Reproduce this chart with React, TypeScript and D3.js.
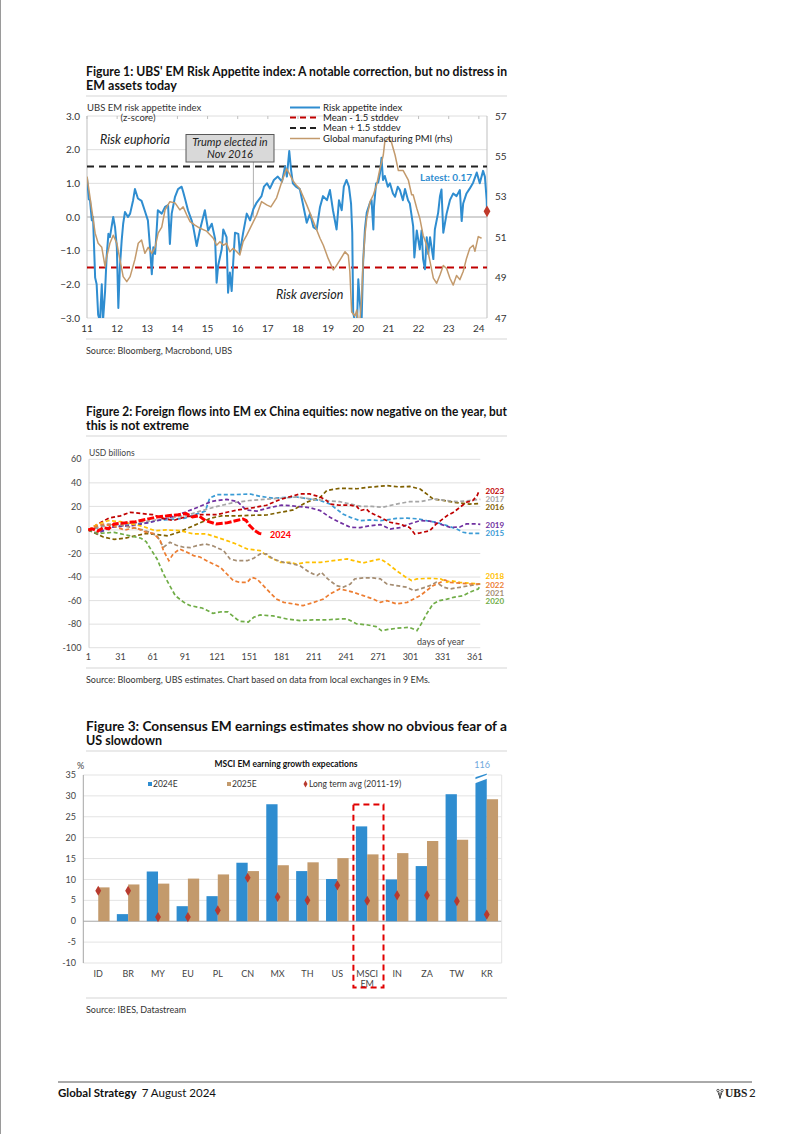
import React from "react";
import * as d3 from "d3";

const FONT = "Lato, 'Open Sans', 'DejaVu Sans', sans-serif";

// ---------------- Figure 1 data ----------------
const riskAppetite: [number, number][] = [
  [2011.0, 1.17], [2011.06, 0.53], [2011.1, 0.5], [2011.16, -0.1], [2011.2, 0.0], [2011.27, -1.8], [2011.32, -2.0],
  [2011.37, -2.9], [2011.43, -3.1], [2011.49, -2.0], [2011.53, -3.1], [2011.6, -2.2], [2011.65, -1.2], [2011.71, -0.5],
  [2011.76, -0.6], [2011.87, 0.0], [2011.93, -0.3], [2011.99, -0.9], [2012.04, -2.7], [2012.09, -1.5], [2012.15, -0.7],
  [2012.2, -0.2], [2012.26, 0.15], [2012.36, 0.0], [2012.43, 0.1], [2012.53, 0.5], [2012.59, 0.83], [2012.69, 0.55],
  [2012.81, 0.48], [2012.92, 0.18], [2013.02, -0.1], [2013.09, -0.9], [2013.15, -1.7], [2013.2, -0.9], [2013.26, -1.1],
  [2013.31, -0.4], [2013.35, 0.2], [2013.48, 0.1], [2013.59, 0.3], [2013.69, 0.35], [2013.75, -0.8], [2013.81, 0.1],
  [2013.92, 0.6], [2014.02, 0.83], [2014.14, 0.9], [2014.19, 0.75], [2014.25, 0.55], [2014.35, 0.2], [2014.47, -0.1],
  [2014.52, -0.27], [2014.64, -0.86], [2014.75, -0.37], [2014.91, 0.2], [2015.02, -0.4], [2015.14, -0.2], [2015.25, -0.65],
  [2015.3, -1.95], [2015.35, -1.45], [2015.47, -0.95], [2015.52, -0.37], [2015.63, -0.6], [2015.68, -2.25], [2015.74, -1.65],
  [2015.8, -2.2], [2015.85, -1.36], [2015.91, -0.47], [2016.02, -0.5], [2016.07, -1.06], [2016.18, -0.47], [2016.3, 0.1],
  [2016.41, -0.1], [2016.52, 0.24], [2016.63, 0.43], [2016.79, 0.62], [2016.87, 0.9], [2016.97, 1.0], [2017.07, 0.85],
  [2017.2, 1.1], [2017.33, 1.2], [2017.47, 1.05], [2017.57, 1.5], [2017.63, 1.2], [2017.71, 1.96], [2017.77, 1.4],
  [2017.83, 1.0], [2017.93, 0.9], [2018.06, 0.83], [2018.16, 0.4], [2018.29, -0.17], [2018.4, 0.1], [2018.51, -0.3],
  [2018.62, -0.37], [2018.73, 0.3], [2018.83, 0.62], [2018.96, 0.5], [2019.06, 0.8], [2019.16, 0.2], [2019.28, -0.37],
  [2019.36, 0.5], [2019.45, 0.2], [2019.52, 0.9], [2019.61, 1.1], [2019.69, 0.9], [2019.76, 0.4], [2019.8, -0.47],
  [2019.83, -2.84], [2019.89, -3.1], [2019.96, -3.1], [2020.0, -1.85], [2020.05, -2.5], [2020.11, -3.1], [2020.16, -1.36],
  [2020.22, -0.37], [2020.28, 0.13], [2020.39, 0.43], [2020.44, 0.5], [2020.5, -0.37], [2020.52, 0.3], [2020.59, 1.0],
  [2020.66, 1.02], [2020.72, 1.3], [2020.77, 1.76], [2020.82, 1.1], [2020.88, 1.22], [2020.98, 0.9], [2021.05, 1.0],
  [2021.15, 0.7], [2021.22, 0.6], [2021.31, 0.9], [2021.38, 0.8], [2021.48, 0.5], [2021.55, 0.83], [2021.65, 0.5],
  [2021.71, 0.4], [2021.82, -0.27], [2021.86, -1.2], [2021.94, -0.4], [2022.04, -0.96], [2022.1, -0.4], [2022.15, -1.25],
  [2022.21, -1.55], [2022.27, -0.6], [2022.32, -1.1], [2022.38, -0.6], [2022.49, -1.25], [2022.54, -0.37], [2022.65, 0.13],
  [2022.71, 0.62], [2022.76, 0.82], [2022.82, -0.47], [2022.93, 0.1], [2023.04, 0.5], [2023.15, 0.7], [2023.26, 0.62],
  [2023.37, 0.8], [2023.43, -0.12], [2023.48, 0.4], [2023.59, 0.7], [2023.7, 0.85], [2023.81, 1.02], [2023.93, 1.32],
  [2024.03, 1.0], [2024.14, 1.37], [2024.2, 1.2], [2024.26, 0.5], [2024.27, 0.17],
];

const globalPmi: [number, number][] = [
  [2011.0, 54.0], [2011.16, 52.35], [2011.27, 51.2], [2011.37, 50.7], [2011.49, 50.5], [2011.6, 49.54], [2011.65, 50.0],
  [2011.76, 50.7], [2011.87, 51.1], [2011.99, 50.7], [2012.09, 49.9], [2012.2, 49.05], [2012.32, 48.8], [2012.43, 49.05],
  [2012.59, 49.9], [2012.7, 50.7], [2012.81, 50.86], [2012.92, 50.2], [2013.03, 50.5], [2013.15, 50.2], [2013.26, 50.5],
  [2013.36, 51.2], [2013.48, 51.5], [2013.59, 52.35], [2013.75, 52.76], [2013.92, 52.7], [2014.08, 52.35], [2014.19, 52.5],
  [2014.31, 52.1], [2014.42, 51.77], [2014.58, 51.6], [2014.75, 51.44], [2014.97, 51.3], [2015.19, 50.95], [2015.3, 50.6],
  [2015.41, 50.78], [2015.52, 50.6], [2015.63, 50.7], [2015.74, 50.28], [2015.85, 50.45], [2015.97, 50.28], [2016.07, 50.12],
  [2016.18, 50.78], [2016.3, 51.1], [2016.41, 51.44], [2016.52, 51.77], [2016.63, 52.1], [2016.79, 52.76], [2016.96, 52.6],
  [2017.1, 52.5], [2017.29, 52.95], [2017.43, 53.6], [2017.62, 54.4], [2017.73, 54.1], [2017.83, 53.8], [2017.93, 53.6],
  [2018.06, 53.4], [2018.29, 52.6], [2018.51, 51.77], [2018.73, 50.95], [2018.84, 50.6], [2019.0, 49.95], [2019.17, 49.38],
  [2019.28, 49.6], [2019.39, 49.87], [2019.56, 50.28], [2019.67, 50.1], [2019.72, 49.3], [2019.78, 47.3], [2019.89, 47.1],
  [2019.95, 47.4], [2020.0, 46.8], [2020.05, 46.8], [2020.11, 48.0], [2020.16, 49.8], [2020.22, 51.1], [2020.28, 51.94],
  [2020.39, 52.76], [2020.5, 53.1], [2020.61, 53.6], [2020.72, 54.4], [2020.83, 55.07], [2020.88, 55.73], [2020.99, 55.9],
  [2021.1, 55.7], [2021.22, 55.07], [2021.33, 54.3], [2021.49, 54.3], [2021.66, 53.83], [2021.77, 53.1], [2021.82, 53.1],
  [2021.94, 52.43], [2022.04, 51.94], [2022.15, 51.1], [2022.27, 50.6], [2022.38, 49.79], [2022.49, 48.97], [2022.6, 48.72],
  [2022.71, 49.13], [2022.82, 49.6], [2022.93, 49.45], [2023.04, 48.97], [2023.15, 48.63], [2023.26, 49.1], [2023.37, 48.9],
  [2023.48, 49.3], [2023.59, 49.95], [2023.7, 50.45], [2023.81, 50.6], [2023.87, 50.3], [2023.98, 51.03], [2024.09, 50.95],
];

const fig1YearTicks = [2011, 2012, 2013, 2014, 2015, 2016, 2017, 2018, 2019, 2020, 2021, 2022, 2023, 2024];
const fig1LeftTicks = [3, 2, 1, 0, -1, -2, -3];
const fig1RightTicks = [57, 55, 53, 51, 49, 47];
const stddevUpper = 1.5;
const stddevLower = -1.5;
const latestRisk = 0.17;

// ---------------- Figure 2 data ----------------
const flows2015: [number, number][] = [[1,0],[8,2],[15,-1],[25,3],[35,4],[45,5],[55,6],[65,8],[78,9],[91,10],[100,13],[110,16],[114,27],[121,30],[135,30],[152,30.5],[161,28.5],[173,27],[183,27.5],[195,28],[207,26.3],[217,25],[226,22],[232,17.8],[238,13.6],[245,10.7],[254,7.9],[263,8.5],[273,7.9],[279,8.5],[288,9.8],[298,10],[307,9.5],[316,7.9],[325,6.5],[335,3.7],[344,0.8],[350,-2],[356,-2.9],[366,-2.9]];
const flows2016: [number, number][] = [[1,0],[8,-3],[15,-6],[25,-8],[35,-7],[45,-5],[55,-3],[65,-4],[75,-5],[85,-2],[95,2],[105,6],[115,10],[125,12],[140,12],[155,12.5],[167,12.7],[180,15],[192,17],[204,23.5],[217,27.7],[223,33.4],[235,35.4],[251,35],[263,36.3],[279,37.6],[291,36.5],[300,37],[310,34.8],[316,30.6],[322,26.3],[329,25.5],[338,24],[347,22.9],[356,22],[366,22.5]];
const flows2017: [number, number][] = [[1,0],[10,2],[20,4],[31,5],[45,6],[61,8],[75,10],[91,12],[105,16],[121,20],[135,23],[151,25],[165,26],[181,27],[195,28],[211,26],[222,25],[235,24],[245,22],[255,20],[265,20],[275,19.2],[288,22],[300,24],[310,24],[322,26.3],[335,25],[345,24],[356,25],[366,26]];
const flows2018: [number, number][] = [[1,0],[10,5],[20,8],[31,7],[42,5],[52,3],[63,-0.6],[74,0],[86,-0.5],[99,-3.4],[111,-3.4],[121,-6.3],[130,-9.1],[139,-12],[149,-16.2],[161,-17.6],[170,-23.3],[180,-27.5],[189,-27.5],[195,-28.9],[204,-27.5],[217,-27.5],[229,-26.1],[242,-24.6],[248,-26],[257,-28],[266,-26],[273,-24.6],[279,-28],[288,-34.6],[296,-39.7],[302,-43],[307,-41.6],[319,-41],[329,-41.6],[335,-44.5],[338,-43],[347,-44.5],[356,-45.2],[366,-45.9]];
const flows2019: [number, number][] = [[1,0],[10,-3],[20,2],[31,3],[45,4],[61,7],[75,10],[91,15],[105,20],[115,24],[121,25],[130,26],[140,24],[148,17],[158,16],[170,19],[181,21],[190,20.5],[198,19.8],[207,19],[217,16.4],[226,10.7],[235,6.5],[245,2.2],[254,2],[263,3.5],[273,4.5],[282,0.8],[291,2],[300,5.1],[310,7.9],[319,7.5],[328,5.1],[338,2.2],[347,2.5],[353,5.1],[363,5.1],[366,4.8]];
const flows2020: [number, number][] = [[1,0],[10,-3],[25,-2],[40,-5],[50,-7],[55,-10],[57,-13.3],[65,-24.6],[71,-37.4],[76,-45.9],[82,-55.8],[90,-61.5],[96,-64.3],[107,-66.3],[117,-70.8],[125,-69.5],[131,-69.6],[139,-75.6],[142,-77.6],[150,-78.2],[155,-74.2],[161,-72.2],[173,-73],[186,-75.6],[198,-77],[210,-76.4],[223,-76.4],[235,-75.6],[242,-75.6],[251,-79.8],[260,-80.5],[269,-82.1],[274,-85.5],[280,-84.5],[288,-83.5],[300,-82.7],[307,-85.5],[311,-79.8],[316,-71.3],[322,-62.8],[328,-60],[335,-58.8],[341,-57.2],[350,-55.8],[356,-53],[364,-50.1],[366,-47.3]];
const flows2021: [number, number][] = [[1,0],[10,3],[20,5],[31,4],[42,2],[52,0],[58,-2],[65,-4.8],[71,-14.7],[77,-10.5],[83,-13],[90,-14.7],[96,-15],[102,-13.3],[110,-11.9],[117,-13.5],[127,-17.6],[133,-24.6],[139,-26.1],[149,-26.1],[155,-24],[161,-20.4],[167,-20.4],[173,-24.6],[183,-27.5],[192,-29],[198,-30.3],[207,-36],[214,-38.8],[218,-36],[224,-41.6],[232,-47.3],[238,-48.7],[245,-45.9],[249,-41.6],[257,-40.7],[266,-40.7],[273,-41.6],[279,-45.9],[288,-47.3],[298,-48.7],[304,-51.5],[310,-50.1],[319,-47.3],[325,-44.5],[332,-48.7],[338,-50.1],[347,-48.7],[356,-47.3],[366,-45.9]];
const flows2022: [number, number][] = [[1,0],[8,3],[15,5],[25,3],[35,0],[45,2],[55,-2],[62,-3],[68,-9.1],[71,-17.6],[76,-26.1],[80,-20.4],[86,-16.2],[93,-19],[99,-21.8],[105,-23],[114,-27.5],[124,-31.8],[130,-37.4],[136,-43],[142,-44.5],[149,-44.5],[153,-40.3],[158,-41.6],[164,-47.3],[170,-53],[176,-58.6],[183,-61.5],[192,-62.8],[201,-64.3],[211,-61.5],[220,-58.6],[226,-54.4],[235,-50.1],[242,-51.5],[248,-53],[257,-55.8],[266,-58.6],[273,-61.5],[279,-60],[288,-62.8],[298,-61.5],[304,-58.6],[310,-55.8],[316,-51.5],[322,-47.3],[329,-44.5],[333,-42.5],[338,-44.5],[347,-45.2],[356,-45.9],[366,-45.9]];
const flows2023: [number, number][] = [[1,0],[10,5],[20,10],[31,12],[40,15],[50,14],[61,13],[70,10],[80,8],[91,11],[105,13],[121,13],[130,15],[140,17],[155,19],[167,21],[180,26],[192,29],[198,30.6],[207,30.6],[217,28],[223,24.9],[226,22],[235,21],[245,21],[251,20],[254,16.4],[260,17.8],[263,15],[273,10.7],[282,6.5],[291,5],[300,2.2],[305,-3.4],[310,-2.5],[319,-0.6],[325,5.1],[335,12.1],[341,15],[347,19.2],[353,23.5],[359,25],[363,29.1],[365,33.4]];
const flows2024: [number, number][] = [[1,0],[5,1],[10,-1],[15,2],[20,1],[25,5],[35,6],[45,7],[55,9],[65,11],[75,12],[85,13],[92,14],[98,11],[104,12],[110,7.9],[120,5.1],[130,6],[139,8],[145,9.3],[148,8],[151,4],[156,-0.6],[160,-2.9],[163,-3.4]];

const flowYears = ["2015", "2016", "2017", "2018", "2019", "2020", "2021", "2022", "2023", "2024"];
const flowSeriesData = [flows2015, flows2016, flows2017, flows2018, flows2019, flows2020, flows2021, flows2022, flows2023, flows2024];
const fig2XTicks = [1, 31, 61, 91, 121, 151, 181, 211, 241, 271, 301, 331, 361];
const fig2YTicks = [60, 40, 20, 0, -20, -40, -60, -80, -100];

// ---------------- Figure 3 data ----------------
const countries = ["ID", "BR", "MY", "EU", "PL", "CN", "MX", "TH", "US", "MSCI EM", "IN", "ZA", "TW", "KR"];
const est2024: (number | null)[] = [null, 1.7, 11.9, 3.6, 6.0, 14.0, 28.0, 12.0, 10.1, 22.7, 10.0, 13.2, 30.4, 116];
const est2025 = [8.1, 8.8, 9.0, 10.2, 11.2, 12.0, 13.4, 14.1, 15.1, 16.0, 16.3, 19.2, 19.5, 29.2];
const longTermAvg = [7.3, 7.3, 1.0, 1.0, 2.6, 10.4, 5.8, 5.0, 8.6, 4.9, 6.2, 6.2, 4.8, 1.6];
const fig3YTicks = [35, 30, 25, 20, 15, 10, 5, 0, -5, -10];

// ---------------- styles ----------------
const BLUE = "#2F8DD0";
const TAN = "#C39A6C";
const flowStyle: Record<string, { color: string; labelY: number; width: number; dash: string }> = {
  "2023": { color: "#C00000", labelY: 491, width: 1.7, dash: "4,2.5" },
  "2017": { color: "#A6A6A6", labelY: 499, width: 1.7, dash: "4,2.5" },
  "2016": { color: "#7F6000", labelY: 507, width: 1.7, dash: "4,2.5" },
  "2019": { color: "#7030A0", labelY: 525, width: 1.7, dash: "4,2.5" },
  "2015": { color: "#3A9BD5", labelY: 533, width: 1.7, dash: "4,2.5" },
  "2018": { color: "#FFC000", labelY: 576.5, width: 1.7, dash: "4,2.5" },
  "2022": { color: "#ED7D31", labelY: 584.7, width: 1.7, dash: "4,2.5" },
  "2021": { color: "#A58D72", labelY: 593, width: 1.7, dash: "4,2.5" },
  "2020": { color: "#70AD47", labelY: 601.2, width: 1.7, dash: "4,2.5" },
  "2024": { color: "#FF0000", labelY: 535, width: 3, dash: "7,2" },
};

function Title({ y, line1, line2 }: { y: number; line1: string; line2: string }) {
  return (
    <g fontFamily={FONT} fontWeight={700} fontSize={12.5} fill="#111">
      <text x={86} y={y} textLength={421} lengthAdjust="spacingAndGlyphs">{line1}</text>
      <text x={86} y={y + 14}>{line2}</text>
      <line x1={86} x2={507} y1={y + 20.5} y2={y + 20.5} stroke="#e3e3e3" strokeWidth={1.5} />
    </g>
  );
}

function Source({ y, text }: { y: number; text: string }) {
  return (
    <g fontFamily={FONT}>
      <line x1={86} x2={507} y1={y - 12} y2={y - 12} stroke="#e3e3e3" strokeWidth={1.5} />
      <text x={86} y={y + 3} fontSize={9} fill="#333">{text}</text>
    </g>
  );
}

function Figure1() {
  const x = d3.scaleLinear().domain([2011, 2024.27]).range([87, 487]);
  const yL = d3.scaleLinear().domain([-3, 3]).range([318, 116]);
  const yR = d3.scaleLinear().domain([47, 57]).range([318, 116]);
  const riskLine = d3.line<[number, number]>().x((d) => x(d[0])).y((d) => yL(d[1]));
  const pmiLine = d3.line<[number, number]>().x((d) => x(d[0])).y((d) => yR(d[1]));
  const trumpX = x(2016.52);
  return (
    <g fontFamily={FONT}>
      <defs>
        <clipPath id="clip1">
          <rect x={87} y={116} width={400} height={202} />
        </clipPath>
      </defs>
      {fig1LeftTicks.map((t) => (
        <line key={t} x1={87} x2={487} y1={yL(t)} y2={yL(t)} stroke={t === 0 ? "#a6a6a6" : "#dedede"} strokeWidth={1} />
      ))}
      <line x1={87} x2={87} y1={116} y2={318} stroke="#bfbfbf" />
      <line x1={487} x2={487} y1={116} y2={318} stroke="#bfbfbf" />
      {fig1YearTicks.map((t) => (
        <line key={"tk" + t} x1={x(t)} x2={x(t)} y1={116} y2={119} stroke="#bfbfbf" />
      ))}
      {fig1LeftTicks.map((t) => (
        <text key={"l" + t} x={80} y={yL(t)} dy="0.35em" textAnchor="end" fontSize={10} fill="#333">
          {d3.format(".1f")(t)}
        </text>
      ))}
      {fig1RightTicks.map((t) => (
        <text key={"r" + t} x={495} y={yR(t)} dy="0.35em" fontSize={10} fill="#333">{t}</text>
      ))}
      {fig1YearTicks.map((t) => (
        <text key={"x" + t} x={x(t)} y={332} textAnchor="middle" fontSize={10} fill="#333">
          {String(t).slice(2)}
        </text>
      ))}
      <text x={87} y={110.5} fontSize={9.5} fill="#333">UBS EM risk appetite index</text>
      <text x={138} y={120.5} fontSize={9.5} fill="#333" textAnchor="middle">(z-score)</text>
      <text x={100} y={143.5} fontSize={12.5} fontStyle="italic" fill="#222">Risk euphoria</text>
      <text x={276} y={299} fontSize={12.5} fontStyle="italic" fill="#222">Risk aversion</text>
      {/* Trump marker */}
      <line x1={trumpX} x2={trumpX} y1={162} y2={yL(0)} stroke="#b0b0b0" strokeWidth={1} />
      <rect x={186} y={134.5} width={88} height={27.5} fill="#d9d9d9" stroke="#595959" strokeWidth={1} />
      <text x={230} y={146} textAnchor="middle" fontSize={11} fontStyle="italic" fill="#222">Trump elected in</text>
      <text x={230} y={158} textAnchor="middle" fontSize={11} fontStyle="italic" fill="#222">Nov 2016</text>
      {/* stddev bands */}
      <line x1={87} x2={487} y1={yL(stddevUpper)} y2={yL(stddevUpper)} stroke="#222" strokeWidth={1.8} strokeDasharray="7,5" />
      <line x1={87} x2={487} y1={yL(stddevLower)} y2={yL(stddevLower)} stroke="#C00000" strokeWidth={1.8} strokeDasharray="7,5" />
      <g clipPath="url(#clip1)">
        <path d={riskLine(riskAppetite) || ""} fill="none" stroke={BLUE} strokeWidth={2} strokeLinejoin="round" />
        <path d={pmiLine(globalPmi) || ""} fill="none" stroke={TAN} strokeWidth={1.5} strokeLinejoin="round" />
      </g>
      <path d={d3.symbol().type(d3.symbolDiamond).size(40)() || ""} transform={`translate(487,${yL(latestRisk)})`} fill="#C0392B" />
      <text x={420} y={181} fontSize={10} fontWeight={700} fill={BLUE}>Latest: 0.17</text>
      {/* legend */}
      <g fontSize={9.5} fill="#222">
        <line x1={290} x2={320} y1={107.5} y2={107.5} stroke={BLUE} strokeWidth={2} />
        <text x={323} y={107.5} dy="0.35em">Risk appetite index</text>
        <line x1={290} x2={320} y1={117.5} y2={117.5} stroke="#C00000" strokeWidth={1.8} strokeDasharray="6,4" />
        <text x={323} y={117.5} dy="0.35em">Mean - 1.5 stddev</text>
        <line x1={290} x2={320} y1={128} y2={128} stroke="#222" strokeWidth={1.8} strokeDasharray="6,4" />
        <text x={323} y={128} dy="0.35em">Mean + 1.5 stddev</text>
        <line x1={290} x2={320} y1={138.5} y2={138.5} stroke={TAN} strokeWidth={1.5} />
        <text x={323} y={138.5} dy="0.35em">Global manufacturing PMI (rhs)</text>
      </g>
    </g>
  );
}

function Figure2() {
  const x = d3.scaleLinear().domain([1, 366]).range([88.3, 480.3]);
  const y = d3.scaleLinear().domain([-100, 60]).range([647.7, 459.3]);
  const line = d3.line<[number, number]>().x((d) => x(d[0])).y((d) => y(d[1])).curve(d3.curveLinear);
  const order = ["2015", "2016", "2017", "2019", "2023", "2018", "2021", "2022", "2020", "2024"];
  return (
    <g fontFamily={FONT}>
      {fig2YTicks.map((t) => (
        <line key={t} x1={89} x2={480.3} y1={y(t)} y2={y(t)} stroke="#e0e0e0" strokeWidth={1} />
      ))}
      <line x1={89} x2={89} y1={459.3} y2={647.7} stroke="#d0d0d0" />
      {fig2YTicks.map((t) => (
        <text key={"l" + t} x={81.5} y={y(t)} dy="0.35em" textAnchor="end" fontSize={9} fill="#444">{t}</text>
      ))}
      {fig2XTicks.map((t) => (
        <text key={"x" + t} x={x(t)} y={660} textAnchor="middle" fontSize={9} fill="#444">{t}</text>
      ))}
      <text x={89} y={456} fontSize={8.5} fill="#444">USD billions</text>
      <text x={417} y={644.5} fontSize={9} fill="#444">days of year</text>
      {order.map((yr) => {
        const idx = flowYears.indexOf(yr);
        const st = flowStyle[yr];
        return (
          <path key={yr} d={line(flowSeriesData[idx]) || ""} fill="none" stroke={st.color} strokeWidth={st.width} strokeDasharray={st.dash} />
        );
      })}
      {flowYears.filter((yr) => yr !== "2024").map((yr) => (
        <text key={"lab" + yr} x={485.5} y={flowStyle[yr].labelY} dy="0.35em" fontSize={8} fontWeight={700} fill={flowStyle[yr].color}>{yr}</text>
      ))}
      <text x={270} y={535} dy="0.35em" fontSize={9} fontWeight={700} fill="#FF0000">2024</text>
    </g>
  );
}

function Figure3() {
  const x0 = d3.scaleBand<string>().domain(countries).range([83.3, 501.7]).paddingInner(0.244).paddingOuter(0.122);
  const x1 = d3.scaleBand<string>().domain(["2024E", "2025E"]).range([0, x0.bandwidth()]);
  const y = d3.scaleLinear().domain([-10, 35]).range([963, 775]);
  const diamond = d3.symbol().type(d3.symbolDiamond).size(30)() || "";
  return (
    <g fontFamily={FONT}>
      {fig3YTicks.map((t) => (
        <line key={t} x1={83.3} x2={501.7} y1={y(t)} y2={y(t)} stroke={t === 0 ? "#a6a6a6" : "#e3e3e3"} strokeWidth={1} />
      ))}
      <line x1={83.3} x2={83.3} y1={775} y2={963} stroke="#a6a6a6" />
      <line x1={501.7} x2={501.7} y1={775} y2={963} stroke="#e3e3e3" />
      {fig3YTicks.map((t) => (
        <text key={"l" + t} x={76} y={y(t)} dy="0.35em" textAnchor="end" fontSize={9} fill="#444">{t}</text>
      ))}
      <text x={77} y={769} fontSize={9} fill="#444">%</text>
      <text x={286} y={766.5} textAnchor="middle" fontSize={8.5} fontWeight={700} fill="#111">MSCI EM earning growth expecations</text>
      {countries.map((c, i) => {
        const bx = x0(c) || 0;
        const b24 = est2024[i];
        const top24 = b24 === null ? null : Math.max(y(b24), 773);
        return (
          <g key={c}>
            {top24 !== null && (
              <rect x={bx + (x1("2024E") || 0)} y={top24} width={x1.bandwidth()} height={y(0) - top24} fill={BLUE} />
            )}
            <rect x={bx + (x1("2025E") || 0)} y={y(est2025[i])} width={x1.bandwidth()} height={y(0) - y(est2025[i])} fill={TAN} />
          </g>
        );
      })}
      {/* KR axis break */}
      {(() => {
        const bx = (x0("KR") || 0) + (x1("2024E") || 0);
        const w = x1.bandwidth();
        return (
          <g>
            <polygon points={`${bx - 1},772 ${bx + w + 1},772 ${bx + w + 1},773.3 ${bx - 1},777.5`} fill="#fff" />
            <polygon points={`${bx - 1},779.5 ${bx + w + 1},774.5 ${bx + w + 1},778.5 ${bx - 1},783.5`} fill="#fff" />
            <text x={bx + w / 2 + 1} y={768} textAnchor="middle" fontSize={9} fill="#6FA8DC">116</text>
          </g>
        );
      })()}
      {countries.map((c, i) => (
        <path key={"d" + c} d={diamond} transform={`translate(${(x0(c) || 0) + x0.bandwidth() / 2},${y(longTermAvg[i])})`} fill="#B83A2E" />
      ))}
      {countries.map((c) => {
        const cx = (x0(c) || 0) + x0.bandwidth() / 2;
        const parts = c.split(" ");
        return (
          <text key={"x" + c} x={cx} y={976.5} textAnchor="middle" fontSize={9} fill="#444">
            {parts.map((p, k) => (
              <tspan key={k} x={cx} dy={k === 0 ? 0 : 10.5}>{p}</tspan>
            ))}
          </text>
        );
      })}
      {/* highlight box */}
      <rect x={(x0("MSCI EM") || 0) - 2.5} y={804.5} width={x0.bandwidth() + 7.5} height={183} fill="none" stroke="#E00000" strokeWidth={2} strokeDasharray="6,4" />
      {/* legend */}
      <g fontSize={8.5} fill="#333">
        <rect x={148} y={782} width={4} height={4} fill={BLUE} />
        <text x={153} y={786.5}>2024E</text>
        <rect x={227} y={782} width={4} height={4} fill={TAN} />
        <text x={232} y={786.5}>2025E</text>
        <path d={d3.symbol().type(d3.symbolDiamond).size(14)() || ""} transform="translate(305.5,784)" fill="#B83A2E" />
        <text x={309} y={786.5}>Long term avg (2011-19)</text>
      </g>
    </g>
  );
}

export default function App() {
  return (
    <div style={{ position: "absolute", left: 0, top: 0 }}>
      <svg width={802} height={1134} viewBox="0 0 802 1134" style={{ display: "block", background: "#fff" }}>
        <rect x={0} y={0} width={802} height={1134} fill="#fff" />
        <line x1={0.5} x2={0.5} y1={0} y2={1134} stroke="#9a9a9a" />
        <Title y={75.5} line1="Figure 1: UBS' EM Risk Appetite index: A notable correction, but no distress in" line2="EM assets today" />
        <Figure1 />
        <Source y={351} text="Source: Bloomberg, Macrobond, UBS" />
        <Title y={415.5} line1="Figure 2: Foreign flows into EM ex China equities: now negative on the year, but" line2="this is not extreme" />
        <Figure2 />
        <Source y={680} text="Source: Bloomberg, UBS estimates. Chart based on data from local exchanges in 9 EMs." />
        <Title y={730.5} line1="Figure 3: Consensus EM earnings estimates show no obvious fear of a" line2="US slowdown" />
        <Figure3 />
        <Source y={1010} text="Source: IBES, Datastream" />
        {/* footer */}
        <line x1={58} x2={752} y1={1082} y2={1082} stroke="#555" strokeWidth={1} />
        <text x={58} y={1097} fontFamily={FONT} fontSize={11.5} fill="#111">
          <tspan fontWeight={700}>Global Strategy</tspan>
          <tspan dx={5}>7 August 2024</tspan>
        </text>
        <g transform="translate(716,1089)" fill="#333" stroke="#333" strokeWidth={0.8}>
          <circle cx={2} cy={1.5} r={1.2} fill="none" />
          <circle cx={6} cy={1.5} r={1.2} fill="none" />
          <circle cx={4} cy={5} r={1.2} fill="none" />
          <line x1={2} y1={3} x2={4} y2={9} />
          <line x1={6} y1={3} x2={4} y2={9} />
          <line x1={4} y1={6.5} x2={4} y2={10} />
        </g>
        <text x={725} y={1097} fontFamily="'Liberation Serif', serif" fontWeight={700} fontSize={11.5} fill="#222">UBS</text>
        <text x={749} y={1097} fontFamily={FONT} fontSize={11.5} fill="#222">2</text>
      </svg>
    </div>
  );
}
